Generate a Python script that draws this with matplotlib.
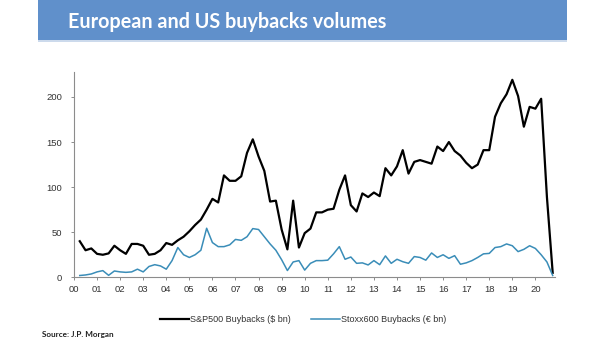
import matplotlib
matplotlib.use("Agg")
import matplotlib.pyplot as plt
import numpy as np
from matplotlib.patches import Rectangle

# quarterly buyback volumes, Q1 2000 .. Q3 2020
first_year = 2000
sp500 = [
    40, 30, 32, 26, 25, 26.5, 35, 30, 26, 37, 37, 35,
    25, 26, 30, 38, 36, 41, 45, 51, 58, 64, 75, 87,
    83, 113, 107, 107, 112, 138, 153, 134, 118, 84, 85, 53,
    31, 85, 33, 49, 54, 72, 72, 75, 76, 97, 113, 80,
    73, 93, 89, 94, 90, 121, 113, 123, 141, 115, 128, 130,
    128, 126, 145, 140, 150, 140, 135, 127, 121, 125, 141, 141,
    178, 193, 203, 219, 201, 167, 189, 187, 198, 89, 5,
]
stoxx600 = [
    2, 2.6, 3.7, 6, 7.4, 2.2, 7, 6, 5.5, 6, 9, 6,
    12, 14, 12.6, 9, 18.5, 33, 25, 22, 25, 30, 54.4, 38.5,
    34, 34, 36, 42, 41, 45, 54, 53, 45, 37, 30, 19.5,
    7.5, 17, 18.5, 8, 15.5, 18.5, 18.5, 19, 26, 34, 20, 22.5,
    15.5, 16, 13.7, 18.5, 14, 23.7, 15.5, 20, 17.3, 15.5, 23, 22,
    19, 27, 22, 25, 21, 24, 14.5, 16, 18.5, 22, 26, 26.5,
    33, 34, 37, 35, 28.5, 31, 35, 32, 25, 17, 2,
]
year_labels = ["%02d" % y for y in range(0, 21)]
legend_labels = ["S&P500 Buybacks ($ bn)", "Stoxx600 Buybacks (€ bn)"]

# points sit at quarter ends
quarters = first_year + 0.25 * (np.arange(len(sp500)) + 1)

W, H = 605, 341
fig = plt.figure(figsize=(W / 100, H / 100), dpi=100)
fig.patch.set_facecolor("white")

# header banner
fig.patches.append(Rectangle((38 / W, 1 - 40 / H), (567 - 38) / W, 40 / H,
                             transform=fig.transFigure, facecolor="#6090CB",
                             edgecolor="none", zorder=0))
fig.patches.append(Rectangle((38 / W, 1 - 42 / H), (567 - 38) / W, 2 / H,
                             transform=fig.transFigure, facecolor="#CCDAEC",
                             edgecolor="none", zorder=0))
fig.text(68 / W, 1 - 22 / H, "European and US buybacks volumes",
         color="white", fontsize=14.2, fontweight="bold", family="Lato",
         va="center", ha="left")

ax = fig.add_axes([74 / W, 1 - 277.3 / H, (555 - 74) / W, (277.3 - 71.7) / H])
ax.plot(quarters, sp500, color="black", lw=1.6, label=legend_labels[0])
ax.plot(quarters, stoxx600, color="#3A8DB8", lw=1.1, label=legend_labels[1])

ax.set_xlim(first_year, 2020.85)
ax.set_ylim(0, 228)
ax.set_yticks([0, 50, 100, 150, 200])
ax.set_xticks(np.arange(first_year, first_year + len(year_labels)))
ax.set_xticklabels(year_labels)

for side in ("top", "right"):
    ax.spines[side].set_visible(False)
for side in ("left", "bottom"):
    ax.spines[side].set_color("#8C8C8C")
    ax.spines[side].set_linewidth(0.8)
ax.tick_params(axis="both", colors="#8C8C8C", labelcolor="#333333",
               labelsize=6.8, length=2.5, width=0.7)
ax.tick_params(axis="y", pad=6)
ax.tick_params(axis="x", pad=3)
for lab in ax.get_xticklabels() + ax.get_yticklabels():
    lab.set_family("Liberation Sans")

fig.legend(loc="center", bbox_to_anchor=(303 / W, 1 - 320 / H), ncol=2,
           frameon=False,
           prop={"family": ["Liberation Sans Narrow", "Liberation Sans"],
                 "size": 6.5},
           handlelength=3.2, columnspacing=2.3, handletextpad=0.1,
           labelcolor="#333333")

fig.text(42 / W, 1 - 334 / H, "Source: J.P. Morgan", fontsize=5.9,
         fontweight="bold", family="Lato", color="#222222",
         va="center", ha="left")

fig.savefig("out.png", dpi=100)
